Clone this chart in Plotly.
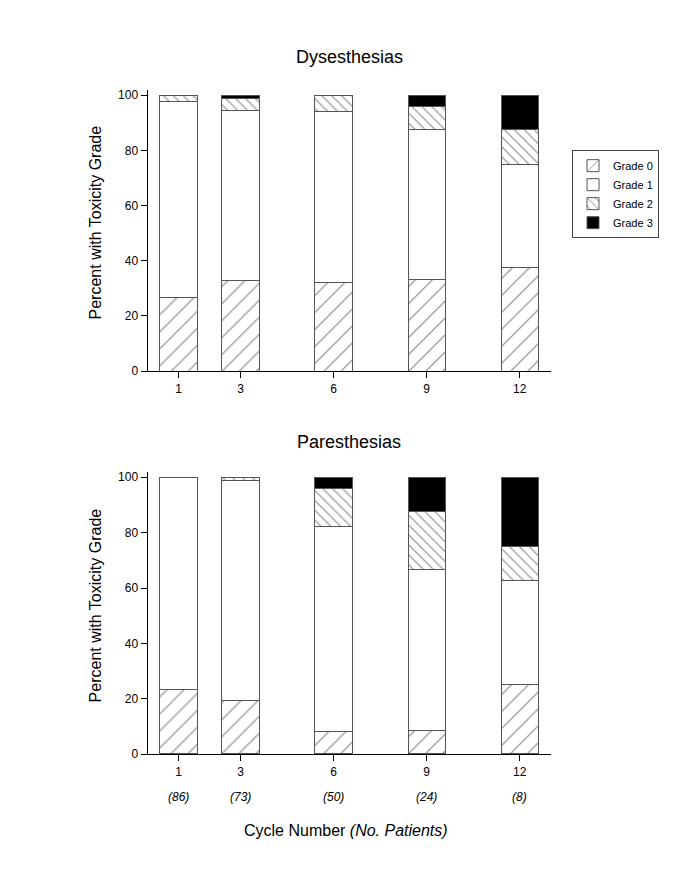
import plotly.graph_objects as go

cycles = [1, 3, 6, 9, 12]
patients = ["(86)", "(73)", "(50)", "(24)", "(8)"]
grades = ["Grade 0", "Grade 1", "Grade 2", "Grade 3"]

dys_g0 = [26.7, 32.9, 32.0, 33.3, 37.5]
dys_g1 = [71.0, 61.6, 62.0, 54.2, 37.5]
dys_g2 = [2.3, 4.1, 6.0, 8.3, 12.5]
dys_g3 = [0.0, 1.4, 0.0, 4.2, 12.5]

par_g0 = [23.3, 19.2, 8.0, 8.3, 25.0]
par_g1 = [76.7, 79.4, 74.0, 58.4, 37.5]
par_g2 = [0.0, 1.4, 14.0, 20.8, 12.5]
par_g3 = [0.0, 0.0, 4.0, 12.5, 25.0]

FONT = "Arial, Liberation Sans, sans-serif"

styles = [
    dict(color="white", pattern=dict(shape="/", fgcolor="#111", bgcolor="white", size=12, solidity=0.1)),
    dict(color="white"),
    dict(color="white", pattern=dict(shape="\\", fgcolor="#111", bgcolor="white", size=7, solidity=0.16)),
    dict(color="black"),
]

fig = go.Figure()

def add_panel(series, xa, ya, show):
    for name, vals, st in zip(grades, series, styles):
        marker = dict(st)
        marker["line"] = dict(color="#555", width=1)
        fig.add_trace(go.Bar(
            x=cycles, y=vals, name=name, width=1.2, marker=marker,
            xaxis=xa, yaxis=ya, showlegend=show, legendgroup=name,
        ))

add_panel([dys_g0, dys_g1, dys_g2, dys_g3], "x", "y", True)
add_panel([par_g0, par_g1, par_g2, par_g3], "x2", "y2", False)

W = 685.0
HS = 877.0  # effective rendered height
def fy(px):
    return 1 - (px - 1) / HS

xdom = [147.5 / W, 550.7 / W]
axis_common_x = dict(
    range=[0, 13], tickmode="array", tickvals=cycles, ticktext=[str(c) for c in cycles],
    showline=True, linecolor="black", linewidth=1, ticks="outside", ticklen=6,
    tickcolor="black", showgrid=False, zeroline=False, domain=xdom,
    tickfont=dict(family=FONT, size=12, color="black"),
)
axis_common_y = dict(
    range=[0, 102], tickvals=[0, 20, 40, 60, 80, 100],
    showline=True, linecolor="black", linewidth=1, ticks="outside", ticklen=6,
    tickcolor="black", showgrid=False, zeroline=False,
    tickfont=dict(family=FONT, size=12, color="black"),
)

fig.update_layout(
    width=685, height=886,
    margin=dict(l=0, r=0, t=0, b=0),
    paper_bgcolor="white", plot_bgcolor="white",
    barmode="stack", bargap=0,
    font=dict(family=FONT, color="black"),
    xaxis=dict(axis_common_x, anchor="y"),
    yaxis=dict(axis_common_y, anchor="x", domain=[fy(370.7), fy(89.5)]),
    xaxis2=dict(axis_common_x, anchor="y2"),
    yaxis2=dict(axis_common_y, anchor="x2", domain=[fy(753.3), fy(471.2)]),
    legend=dict(
        x=572 / W, y=fy(150), xanchor="left", yanchor="top",
        traceorder="normal", bordercolor="#444", borderwidth=1,
        font=dict(family=FONT, size=11, color="black"), bgcolor="white",
    ),
)

def ann(text, x, y, size, xref="paper", angle=0):
    return dict(text=text, x=x, y=y, xref=xref, yref="paper", showarrow=False,
                xanchor="center", yanchor="middle", textangle=angle,
                font=dict(size=size, family=FONT, color="black"))

annotations = [
    ann("Dysesthesias", (xdom[0] + xdom[1]) / 2, fy(57), 18),
    ann("Paresthesias", (xdom[0] + xdom[1]) / 2, fy(441), 18),
    ann("Percent with Toxicity Grade", 95.7 / W, fy(222.5), 16, angle=-90),
    ann("Percent with Toxicity Grade", 95.7 / W, fy(605), 16, angle=-90),
    ann("Cycle Number <i>(No. Patients)</i>", 346 / W, fy(830), 16),
]
for c, p in zip(cycles, patients):
    annotations.append(ann(f"<i>{p}</i>", c, fy(796), 12, xref="x2"))
fig.update_layout(annotations=annotations)

fig.write_html("out.html", config={"displayModeBar": False},
               post_script="document.body.style.margin='0';")
